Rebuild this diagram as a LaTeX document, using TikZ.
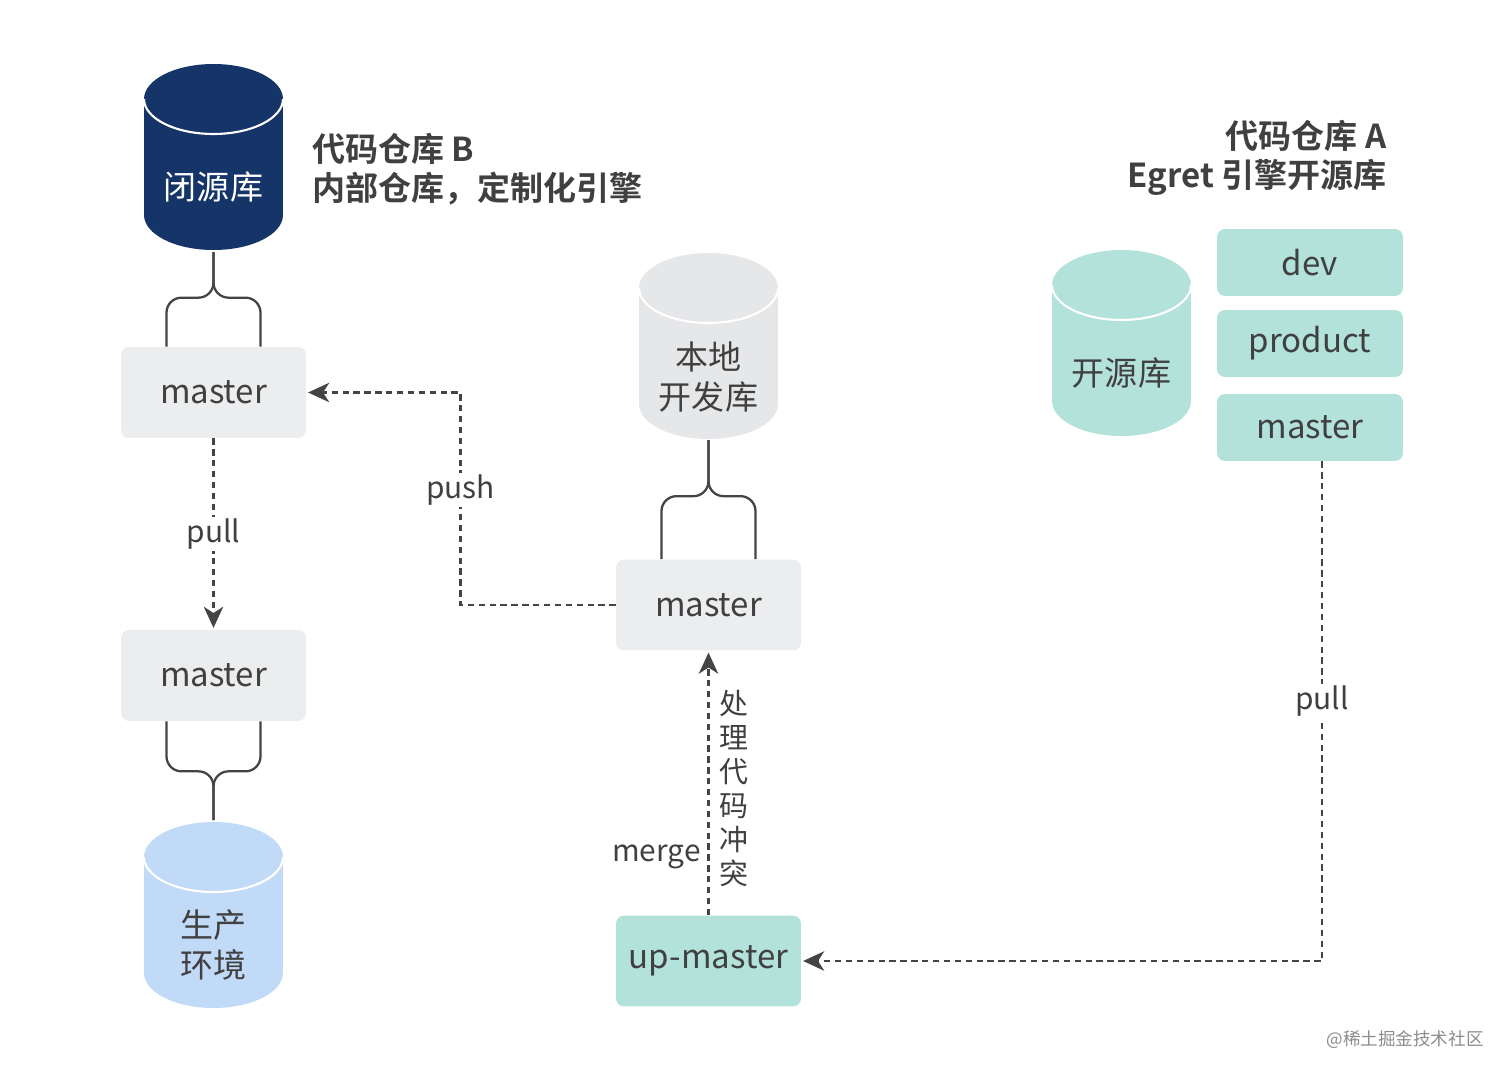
\documentclass[tikz,border=0pt]{standalone}
\usepackage{fontspec}
\setmainfont{Noto Sans CJK SC}[BoldFont={Noto Sans CJK SC Bold}]
\usetikzlibrary{arrows.meta,positioning,calc}

\definecolor{navyrepo}{RGB}{21,52,104}
\definecolor{greyrepo}{RGB}{230,231,233}
\definecolor{greybox}{RGB}{236,237,238}
\definecolor{bluerepo}{RGB}{193,218,248}
\definecolor{tealrepo}{RGB}{178,226,217}
\definecolor{textgrey}{RGB}{64,64,64}
\definecolor{linegrey}{RGB}{68,68,68}

\tikzset{
  branch/.style={rounded corners=0.16cm, minimum width=3.7cm, minimum height=1.82cm,
    inner sep=0pt, text=textgrey, font=\fontsize{18.8}{22}\selectfont},
  smallbranch/.style={branch, fill=tealrepo, minimum width=3.72cm, minimum height=1.34cm},
  repotext/.style={align=center, font=\fontsize{18.8}{22.6}\selectfont},
  flow/.style={draw=linegrey, line width=1.4pt, dash pattern=on 3.6pt off 2.6pt,
    -{Stealth[length=12pt,width=11pt,inset=3.5pt]}, shorten >=1pt},
  brace/.style={draw=linegrey, line width=1.3pt, rounded corners=0.3cm},
  lbl/.style={fill=white, text=textgrey, inner sep=1pt, font=\fontsize{17}{20}\selectfont},
  title/.style={text=textgrey, inner sep=0pt, font=\bfseries\fontsize{18.8}{22.1}\selectfont}
}

\begin{document}
\begin{tikzpicture}[x=0.02cm, y=-0.02cm]
\useasboundingbox (0,0) rectangle (1512,1078);

% repositories
\foreach \nm/\cx/\cy/\col/\tc/\ty/\txt in {
  closed/213.5/64/navyrepo/white/187/{闭源库},
  local/708.5/253/greyrepo/textgrey/377/{本地\\开发库},
  prod/213.5/822/bluerepo/textgrey/945/{生产\\环境},
  open/1121.5/250/tealrepo/textgrey/373/{开源库}}
{
 \fill[\col] (\cx-69.5, \cy+35) rectangle (\cx+69.5, \cy+151);
 \fill[\col] (\cx, \cy+35) ellipse [x radius=1.39cm, y radius=0.7cm];
 \fill[\col] (\cx, \cy+151) ellipse [x radius=1.39cm, y radius=0.7cm];
 \draw[white, line width=1.2pt] (\cx-69.5, \cy+35) arc [start angle=180, end angle=360, x radius=1.39cm, y radius=0.7cm];
 \node[repotext, text=\tc] (\nm) at (\cx, \ty) {\txt};
}
\coordinate (closedbot) at (213.5, 252);
\coordinate (localbot) at (708.5, 440);
\coordinate (prodtop) at (213.5, 820);

% titles
\node[title, anchor=west, align=left] (titleB) at (312, 169.5) {代码仓库 B\\内部仓库，定制化引擎};
\node[title, anchor=east, align=right] (titleA) at (1387, 157.5) {代码仓库 A\\Egret 引擎开源库};

% branches
\node[branch, fill=greybox] (m1) at (213.5, 392.5) {master};
\node[branch, fill=greybox] (m2) at (213.5, 675.5) {master};
\node[branch, fill=greybox] (lm) at (708.5, 605) {master};
\node[branch, fill=tealrepo] (up) at (708.5, 961) {up-master};
\node[smallbranch] (dev) at (1310, 262.5) {dev};
\node[smallbranch] (product) at (1310, 343.5) {product};
\node[smallbranch] (ma) at (1310, 427.5) {master};

% braces
\draw[brace] ($(m1.north)+(-47,0)$) -- ++(0,-49) -| (closedbot);
\draw[brace] ($(m1.north)+(47,0)$) -- ++(0,-49) -| (closedbot);
\draw[brace] ($(lm.north)+(-47,0)$) -- ++(0,-63) -| (localbot);
\draw[brace] ($(lm.north)+(47,0)$) -- ++(0,-63) -| (localbot);
\draw[brace] ($(m2.south)+(-47,0)$) -- ++(0,50) -| (prodtop);
\draw[brace] ($(m2.south)+(47,0)$) -- ++(0,50) -| (prodtop);

% flows
\draw[flow] (m1.south) -- node[lbl] (pullB) {pull} (m2.north);
\draw[flow] (lm.west) -- ++(-155,0) |- node[lbl, pos=0.27] (pushlbl) {push} (m1.east);
\draw[flow] (up.north) -- (lm.south)
  node[lbl, fill=none, anchor=east, pos=0.22, xshift=-0.1cm] (mergelbl) {merge}
  node[anchor=west, pos=0.48, xshift=0.2cm, inner sep=0pt, align=center, text=textgrey,
       font=\fontsize{16.5}{19.3}\selectfont] (conflict) {处\\理\\代\\码\\冲\\突};
\draw[flow] ([xshift=0.24cm]ma.south) |- node[lbl, pos=0.24] (pullA) {pull} (up.east);

% watermark
\node[anchor=east, inner sep=0pt, text=black!45, font=\fontsize{10}{12}\selectfont] (mark) at (1484, 1040) {@稀土掘金技术社区};
\end{tikzpicture}
\end{document}
